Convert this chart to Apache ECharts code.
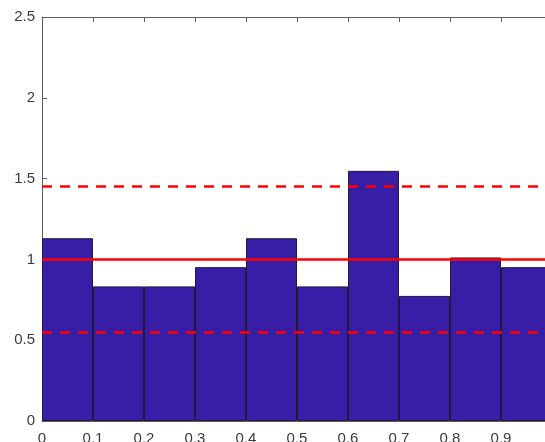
<!DOCTYPE html>
<html>
<head>
<meta charset="utf-8">
<script src="https://cdn.jsdelivr.net/npm/echarts@6/dist/echarts.min.js"></script>
<style>
  html, body { margin: 0; padding: 0; background: #fff; overflow: hidden; }
  #chart { width: 545px; height: 442px; }
</style>
</head>
<body>
<div id="chart"></div>
<script>
// Histogram bins over [0, 1] (bin width 0.1), normalized as a density
const binEdges = [0, 0.1, 0.2, 0.3, 0.4, 0.5, 0.6, 0.7, 0.8, 0.9];
const density = [1.131, 0.833, 0.833, 0.952, 1.131, 0.833, 1.548, 0.774, 1.012, 0.952];

// Reference levels: expected density and the tolerance band around it
const expectedLevel = 1;
const bandLower = 0.55;
const bandUpper = 1.45;

// Axis ranges and tick spacing
const xMin = 0, xMax = 1, xStep = 0.1;
const yMin = 0, yMax = 2.5, yStep = 0.5;

const axisGray = '#5c5c5c';
const textGray = '#3a3a3a';
const fontFamily = '"Liberation Sans", Arial, Helvetica, sans-serif';

const chart = echarts.init(document.getElementById('chart'), null, { renderer: 'canvas' });

chart.setOption({
  animation: false,
  backgroundColor: '#ffffff',
  // the axes box deliberately runs past the right and bottom edges
  grid: { left: 42, top: 17, width: 510, height: 404, containLabel: false, outerBoundsMode: 'none' },
  xAxis: [
    {
      type: 'value', position: 'bottom', min: xMin, max: xMax, interval: xStep,
      axisLine: { show: true, lineStyle: { color: axisGray, width: 1 } },
      axisTick: { show: true, inside: true, length: 5, lineStyle: { color: axisGray } },
      axisLabel: { color: textGray, fontSize: 15, fontFamily, margin: 10 },
      splitLine: { show: false }
    },
    {
      type: 'value', position: 'top', min: xMin, max: xMax, interval: xStep,
      axisLine: { show: true, lineStyle: { color: axisGray, width: 1 } },
      axisTick: { show: true, inside: true, length: 5, lineStyle: { color: axisGray } },
      axisLabel: { show: false },
      splitLine: { show: false }
    },
    {
      type: 'category', data: binEdges.map(String), show: false, boundaryGap: true
    }
  ],
  yAxis: [
    {
      type: 'value', position: 'left', min: yMin, max: yMax, interval: yStep,
      axisLine: { show: true, lineStyle: { color: axisGray, width: 1 } },
      axisTick: { show: true, inside: true, length: 5, lineStyle: { color: axisGray } },
      axisLabel: { color: textGray, fontSize: 15, fontFamily, margin: 7 },
      splitLine: { show: false }
    }
  ],
  series: [
    {
      type: 'bar',
      xAxisIndex: 2,
      yAxisIndex: 0,
      data: density,
      barWidth: '100%',
      barGap: '0%',
      itemStyle: { color: '#381ea6', borderColor: '#1f1a3a', borderWidth: 1 },
      silent: true,
      markLine: {
        silent: true,
        symbol: 'none',
        label: { show: false },
        data: [
          { yAxis: expectedLevel, lineStyle: { color: '#ff0000', width: 2.5, type: 'solid' } },
          { yAxis: bandUpper, lineStyle: { color: '#ff0000', width: 2.5, type: [10, 8] } },
          { yAxis: bandLower, lineStyle: { color: '#ff0000', width: 2.5, type: [10, 8] } }
        ]
      }
    }
  ]
});
</script>
</body>
</html>
